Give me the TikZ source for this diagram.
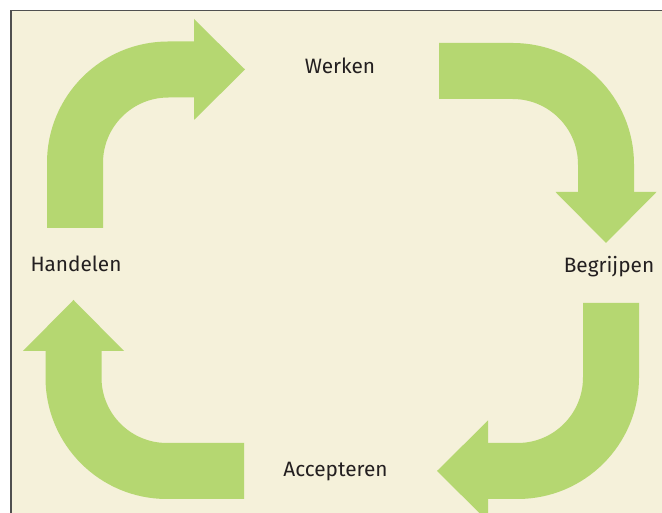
\documentclass[tikz,border=0pt]{standalone}
\usepackage{fontspec}
\setmainfont{Fira Sans}
\usepackage{tikz}
\usetikzlibrary{arrows.meta}
\definecolor{cream}{RGB}{245,241,218}
\definecolor{leaf}{RGB}{181,215,113}
\definecolor{ink}{RGB}{35,31,32}
\definecolor{frame}{RGB}{80,80,80}
\tikzstyle{stage} = [text=ink, font=\fontsize{15.6}{18}\selectfont, inner sep=0pt, anchor=base]
\tikzstyle{turnarrow} = [draw=leaf, line width=42pt, rounded corners=70pt,
   -{Triangle[width=75.75pt,length=38.25pt,line width=0pt]}]

\begin{document}
\begin{tikzpicture}[x=0.75pt, y=0.75pt]

\useasboundingbox (0,0) rectangle (662,513);
\fill[cream] (11,0) rectangle (662,502.5);
\draw[frame, line width=1.1pt] (11,0) -- (11,502.5) -- (662,502.5);

\node (werken) [stage] at (340,439) {Werken};
\node (begrijpen) [stage] at (609,240) {Begrijpen};
\node (accepteren) [stage] at (335.5,36) {Accepteren};
\node (handelen) [stage] at (76,241) {Handelen};

% arrow ends
\coordinate (hand-top) at (75,285);
\coordinate (werk-left) at (245,443.5);
\coordinate (werk-right) at (439,442);
\coordinate (begr-top) at (606,270);
\coordinate (begr-bot) at (611,210);
\coordinate (acc-right) at (437,42);
\coordinate (acc-left) at (244,42);
\coordinate (hand-bot) at (73.5,213);

\draw [turnarrow] (hand-top) |- (werk-left);
\draw [turnarrow] (werk-right) -| (begr-top);
\draw [turnarrow] (begr-bot) |- (acc-right);
\draw [turnarrow] (acc-left) -| (hand-bot);

\end{tikzpicture}
\end{document}
